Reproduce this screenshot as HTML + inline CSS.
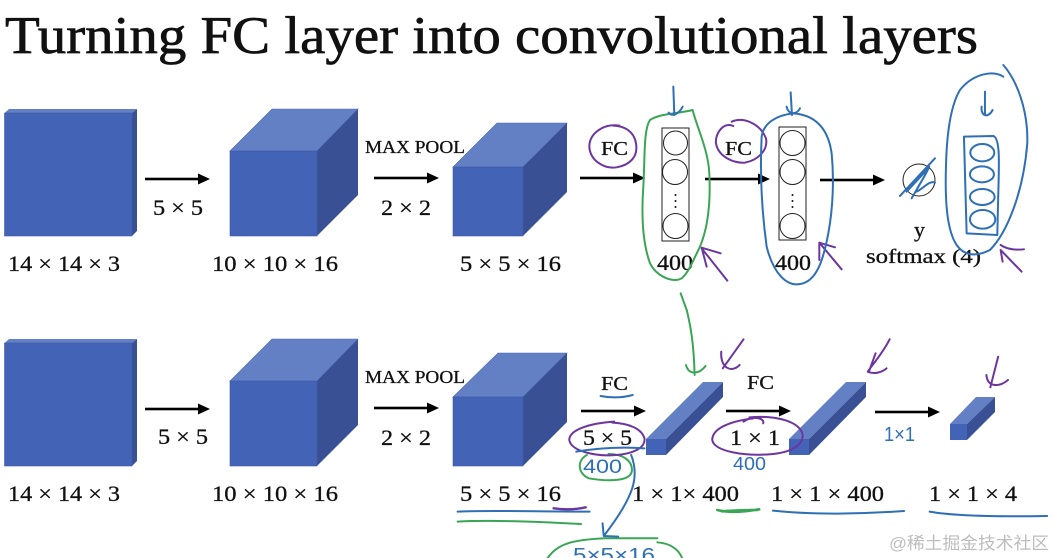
<!DOCTYPE html>
<html><head><meta charset="utf-8"><style>
html,body{margin:0;padding:0;background:#fff;width:1054px;height:558px;overflow:hidden}
svg{display:block}
text{font-family:"Liberation Serif","Noto Serif CJK SC",serif;fill:#111;stroke:#111;stroke-width:.3}
.m{font-size:22px}
.k{stroke:none;fill:#2f6fb5;font-family:"Liberation Sans",sans-serif}
.h path,.h ellipse{fill:none;stroke-linecap:round;stroke-linejoin:round;vector-effect:non-scaling-stroke;stroke-width:2}
.b path,.b ellipse{stroke:#2f6fb5}
.g path{stroke:#3aa655}
.p path{stroke:#6d35a0}
</style></head><body>
<svg width="1054" height="558" viewBox="0 0 1054 558" xmlns="http://www.w3.org/2000/svg">
<defs>
<g id="arr"><rect x="0" y="-1.3" width="54" height="2.6" fill="#000"/><path d="M53 -5.5L65 0L53 5.5Z" fill="#000"/></g>
<g id="row">
<path d="M4.5 113L9 109H137L132 113Z" fill="#6480c4"/><path d="M132 113L137 109V231L132 236Z" fill="#3a5095"/><rect x="4.5" y="113" width="127.5" height="123" fill="#4363b7" stroke="#3f5ca8" stroke-width=".6"/>
<path d="M230 151L272 109H358L317 151Z" fill="#6480c4" stroke="#4a69b8" stroke-width=".6"/><path d="M317 151L358 109V195L317 236Z" fill="#3a5095"/><rect x="230" y="151" width="87" height="85" fill="#4363b7" stroke="#3f5ca8" stroke-width=".6"/>
</g>
<g id="cube3">
<path d="M453 167L497 123H567L523 167Z" fill="#6480c4" stroke="#4a69b8" stroke-width=".6"/><path d="M523 167L567 123V192L523 236Z" fill="#3a5095"/><rect x="453" y="167" width="70" height="69" fill="#4363b7" stroke="#3f5ca8" stroke-width=".6"/>
</g>
<g id="bar">
<path d="M0 0L57 -57H77L20 0Z" fill="#6480c4"/><path d="M20 0L77 -57V-42L20 16Z" fill="#3a5095"/><rect x="0" y="0" width="20" height="16" fill="#4363b7"/>
</g>
</defs>

<text x="5" y="53" font-size="53" textLength="973" lengthAdjust="spacingAndGlyphs" style="stroke-width:.7">Turning FC layer into convolutional layers</text>

<use href="#row"/>
<use href="#cube3"/>
<use href="#row" y="230"/>
<path d="M453 397L498 353H567L523 397Z" fill="#6480c4" stroke="#4a69b8" stroke-width=".6"/><path d="M523 397L567 353V422L523 466Z" fill="#3a5095"/><rect x="453" y="397" width="70" height="69" fill="#4363b7" stroke="#3f5ca8" stroke-width=".6"/>
<use href="#bar" x="646" y="439"/>
<use href="#bar" x="789" y="439"/>
<path d="M950 424L976 397H995L967 424Z" fill="#6480c4"/><path d="M967 424L995 397V412L967 440Z" fill="#3a5095"/><rect x="950" y="424" width="17" height="16" fill="#4363b7"/>

<use href="#arr" x="145" y="179"/><use href="#arr" x="374" y="178"/><use href="#arr" x="580" y="178"/><use href="#arr" x="705" y="179"/><use href="#arr" x="820" y="180"/>
<use href="#arr" x="145" y="409"/><use href="#arr" x="374" y="408"/><use href="#arr" x="581" y="411"/><use href="#arr" x="726" y="411"/><use href="#arr" x="875" y="412"/>

<text class="m" x="153" y="215" textLength="50" lengthAdjust="spacingAndGlyphs">5 × 5</text>
<text class="m" x="381" y="215" textLength="50" lengthAdjust="spacingAndGlyphs">2 × 2</text>
<text x="365" y="153" font-size="18" textLength="100" lengthAdjust="spacingAndGlyphs">MAX POOL</text>
<text class="m" x="8" y="271" textLength="112" lengthAdjust="spacingAndGlyphs">14 × 14 × 3</text>
<text class="m" x="212" y="271" textLength="126" lengthAdjust="spacingAndGlyphs">10 × 10 × 16</text>
<text class="m" x="460" y="271" textLength="101" lengthAdjust="spacingAndGlyphs">5 × 5 × 16</text>
<text x="601" y="155" font-size="20" textLength="27" lengthAdjust="spacingAndGlyphs">FC</text>
<text x="725" y="155" font-size="20" textLength="27" lengthAdjust="spacingAndGlyphs">FC</text>
<text class="m" x="657" y="270" textLength="36" lengthAdjust="spacingAndGlyphs">400</text>
<text class="m" x="775" y="270" textLength="36" lengthAdjust="spacingAndGlyphs">400</text>
<text class="m" x="914" y="237">y</text>
<text x="866" y="263" font-size="20" textLength="115" lengthAdjust="spacingAndGlyphs">softmax (4)</text>

<g fill="#fff" stroke="#222" stroke-width="1">
<rect x="662" y="128" width="27" height="113"/>
<circle cx="675.5" cy="143" r="12"/><circle cx="675" cy="172" r="12.5"/><circle cx="675.5" cy="226" r="12.5"/>
<rect x="779" y="127" width="27" height="113"/>
<circle cx="792.5" cy="143" r="12.5"/><circle cx="792.5" cy="172" r="12.5"/><circle cx="792.5" cy="226" r="12.5"/>
<circle cx="919" cy="180" r="16"/>
</g>
<g fill="#111"><circle cx="675.5" cy="195" r="1"/><circle cx="675.5" cy="201" r="1"/><circle cx="675.5" cy="207" r="1"/><circle cx="792.5" cy="195" r="1"/><circle cx="792.5" cy="201" r="1"/><circle cx="792.5" cy="207" r="1"/></g>

<text class="m" x="158" y="444" textLength="50" lengthAdjust="spacingAndGlyphs">5 × 5</text>
<text class="m" x="381" y="445" textLength="50" lengthAdjust="spacingAndGlyphs">2 × 2</text>
<text x="365" y="383" font-size="18" textLength="100" lengthAdjust="spacingAndGlyphs">MAX POOL</text>
<text x="601" y="390" font-size="20" textLength="27" lengthAdjust="spacingAndGlyphs">FC</text>
<text x="747" y="389" font-size="20" textLength="27" lengthAdjust="spacingAndGlyphs">FC</text>
<text class="m" x="583" y="445" textLength="49" lengthAdjust="spacingAndGlyphs">5 × 5</text>
<text class="m" x="730" y="445" textLength="50" lengthAdjust="spacingAndGlyphs">1 × 1</text>
<text class="m" x="8" y="501" textLength="112" lengthAdjust="spacingAndGlyphs">14 × 14 × 3</text>
<text class="m" x="212" y="501" textLength="126" lengthAdjust="spacingAndGlyphs">10 × 10 × 16</text>
<text class="m" x="460" y="501" textLength="101" lengthAdjust="spacingAndGlyphs">5 × 5 × 16</text>
<text class="m" x="632" y="501" textLength="107" lengthAdjust="spacingAndGlyphs">1 × 1× 400</text>
<text class="m" x="771" y="501" textLength="113" lengthAdjust="spacingAndGlyphs">1 × 1 × 400</text>
<text class="m" x="929" y="501" textLength="88" lengthAdjust="spacingAndGlyphs">1 × 1 × 4</text>

<!-- ink, upper row -->
<g class="h" transform="translate(560,60) scale(.3333)">
<g class="g"><path d="M398 150C360 160 300 160 270 180C250 210 255 300 250 380C245 450 245 540 270 610C290 650 340 670 365 655C385 640 400 600 420 560C445 500 452 420 448 340C445 270 410 200 398 150"/><path d="M362 700L380 750"/></g>
<g class="p"><path d="M178 197C130 190 88 220 88 260C90 300 130 328 170 322C210 315 235 290 228 250C222 215 195 198 160 197"/><path d="M502 662L425 565M482 580L425 563L440 620"/><path d="M520 198C490 185 465 220 468 250C475 290 520 310 555 308C595 300 625 270 618 235C600 190 550 170 515 185"/><path d="M845 628L778 548L778 600M778 548L825 562"/><path d="M1385 635L1322 570L1328 605M1322 555C1345 570 1370 570 1392 568"/></g>
<g class="b"><path d="M340 80L343 165M326 158C335 170 355 165 368 140"/><path d="M700 160C650 165 610 190 605 230C600 330 605 450 620 560C640 640 680 680 720 672C770 665 790 600 805 520C820 440 822 350 815 280C805 210 770 165 700 160"/><path d="M692 97L696 165M680 140C685 165 710 165 720 145"/><path d="M1330 50C1300 30 1240 40 1200 90C1170 140 1160 230 1158 320C1155 420 1160 510 1190 555C1215 590 1250 590 1290 570C1340 520 1390 400 1402 250C1405 150 1370 60 1330 15"/><path d="M1275 95L1275 165M1265 140C1262 170 1285 175 1298 150"/><path d="M1212 230L1300 228C1320 235 1318 300 1315 400L1312 525L1220 520C1218 430 1215 330 1212 230"/><ellipse cx="1267" cy="278" rx="36" ry="26"/><ellipse cx="1266" cy="343" rx="36" ry="24"/><ellipse cx="1267" cy="411" rx="37" ry="24"/><ellipse cx="1268" cy="478" rx="38" ry="28"/><path d="M1020 408L1125 295M1055 415C1075 380 1100 340 1108 320C1090 360 1065 390 1070 395C1090 385 1110 360 1125 368M1040 395L1105 325"/></g>
</g>

<!-- ink, lower row -->
<g class="h" transform="translate(440,310) scale(.3917,.3333)">
<g class="g"><path d="M630 0C640 50 648 100 650 195M628 165C635 195 660 195 678 168"/><path d="M375 435C350 450 350 490 380 505C430 515 490 515 490 480C490 450 465 432 430 432"/><path d="M45 635C120 630 250 635 360 642"/><path d="M708 600C740 610 780 605 815 598M720 604C750 602 780 600 810 600" style="stroke-width:2.6"/><path d="M275 744C300 700 340 690 420 685L555 685M555 697C590 700 610 720 618 744"/></g>
<g class="p"><path d="M775 88L722 175M718 125C715 175 745 190 765 165"/><path d="M1148 88C1130 130 1100 170 1092 185C1110 195 1130 185 1140 175M1095 185L1112 130"/><path d="M1425 140L1405 232M1395 195C1398 235 1430 230 1450 210"/><path d="M445 335C380 340 330 360 330 390C335 425 400 440 450 435C500 430 525 410 522 385C515 355 480 340 440 338"/><path d="M800 325C730 335 695 360 695 390C700 425 780 440 850 432C910 425 930 395 925 370C915 335 860 315 790 322M825 340C830 325 800 315 775 335"/><path d="M290 595C320 600 350 598 372 592" style="stroke-width:2.4"/></g>
<g class="b"><path d="M410 258C440 265 470 262 492 255"/><path d="M348 425C400 415 460 410 522 415"/><path d="M488 435C510 500 495 560 420 675M415 640L418 678L455 680"/><path d="M45 605C120 600 250 605 382 605"/><path d="M850 602C950 615 1080 612 1185 603"/><path d="M1250 605C1320 620 1450 620 1550 618"/></g>
</g>
<text class="k" x="583" y="473" font-size="19" textLength="39" lengthAdjust="spacingAndGlyphs">400</text>
<text class="k" x="733" y="470" font-size="18" textLength="33" lengthAdjust="spacingAndGlyphs">400</text>
<text class="k" x="884" y="441" font-size="20" textLength="31" lengthAdjust="spacingAndGlyphs">1×1</text>
<text class="k" x="573" y="562" font-size="20" textLength="82" lengthAdjust="spacingAndGlyphs">5×5×16</text>
<text x="889" y="549" font-size="17" textLength="160" lengthAdjust="spacingAndGlyphs" style="stroke:none;fill:#bdbdbd;font-family:'Liberation Sans','Noto Sans CJK SC',sans-serif">@稀土掘金技术社区</text>
</svg>
</body></html>
